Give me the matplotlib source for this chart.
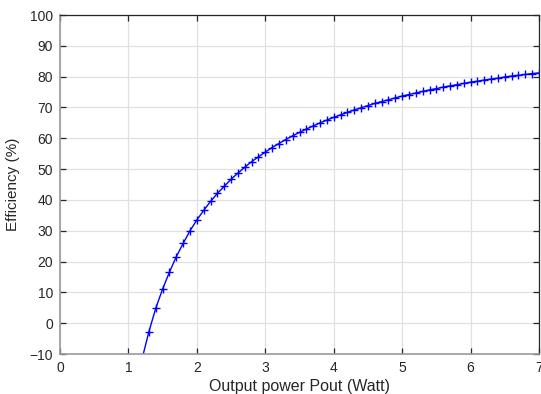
import matplotlib
matplotlib.use("Agg")
import matplotlib.pyplot as plt

# Output power (W) and measured efficiency (%)
pout = [1.2, 1.3, 1.4, 1.5, 1.6, 1.7, 1.8, 1.9, 2.0,
        2.1, 2.2, 2.3, 2.4, 2.5, 2.6, 2.7, 2.8, 2.9, 3.0,
        3.1, 3.2, 3.3, 3.4, 3.5, 3.6, 3.7, 3.8, 3.9, 4.0,
        4.1, 4.2, 4.3, 4.4, 4.5, 4.6, 4.7, 4.8, 4.9, 5.0,
        5.1, 5.2, 5.3, 5.4, 5.5, 5.6, 5.7, 5.8, 5.9, 6.0,
        6.1, 6.2, 6.3, 6.4, 6.5, 6.6, 6.7, 6.8, 6.9, 7.0]
efficiency = [-11.5, -2.7, 4.9, 11.1, 16.6, 21.6, 25.9, 30.0, 33.5,
              36.6, 39.5, 42.1, 44.4, 46.7, 48.7, 50.6, 52.4, 54.0, 55.5,
              57.0, 58.3, 59.6, 60.8, 61.9, 63.0, 64.0, 65.0, 65.9, 66.8,
              67.6, 68.4, 69.2, 69.9, 70.6, 71.3, 71.9, 72.5, 73.1, 73.7,
              74.2, 74.7, 75.2, 75.7, 76.1, 76.6, 77.0, 77.4, 77.8, 78.2,
              78.5, 78.9, 79.2, 79.5, 79.9, 80.2, 80.4, 80.7, 81.0, 81.2]

x_ticks = [0, 1, 2, 3, 4, 5, 6, 7]
y_ticks = [-10, 0, 10, 20, 30, 40, 50, 60, 70, 80, 90, 100]

plt.rcParams['font.family'] = ['Liberation Sans', 'DejaVu Sans']

fig = plt.figure(figsize=(5.41, 3.94), dpi=100)
ax = fig.add_axes([60 / 541, 40 / 394, 479 / 541, 339 / 394])

ax.plot(pout, efficiency, color='#0000ff', linewidth=1.0,
        marker='+', markersize=6, markeredgewidth=1.0)

ax.set_xlim(0, 7)
ax.set_ylim(-10, 100)
ax.set_xticks(x_ticks)
ax.set_yticks(y_ticks)

ax.grid(True, color='#e0e0e0', linewidth=0.9)
ax.set_axisbelow(True)

for side in ('left', 'bottom'):
    ax.spines[side].set_color('#9a9a9a')
    ax.spines[side].set_linewidth(1.2)
for side in ('top', 'right'):
    ax.spines[side].set_color('#262626')
    ax.spines[side].set_linewidth(0.9)

ax.tick_params(direction='in', length=4, width=0.9, colors='#262626',
               labelsize=10, top=True, right=True, pad=5)

ax.set_xlabel('Output power Pout (Watt)', fontsize=11.5, color='#262626', labelpad=3)
ax.set_ylabel('Efficiency (%)', fontsize=11, color='#262626', labelpad=7)

fig.savefig('out.png', dpi=100)
